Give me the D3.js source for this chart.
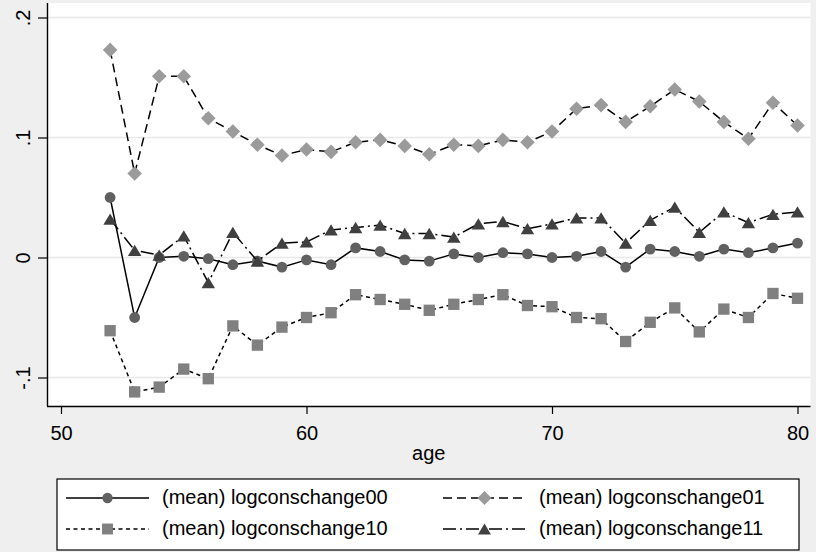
<!DOCTYPE html>
<html>
<head>
<meta charset="utf-8">
<script src="https://cdn.jsdelivr.net/npm/d3@7"></script>
<style>
  html, body { margin: 0; padding: 0; background: #efefef; }
  svg { display: block; font-family: "Liberation Sans", Arial, sans-serif; }
</style>
</head>
<body>
<svg id="chart" width="816" height="552"></svg>
<script>
// Mean log consumption change by age, four groups
const ages = [52,53,54,55,56,57,58,59,60,61,62,63,64,65,66,67,68,69,70,71,72,73,74,75,76,77,78,79,80];

const logconschange00 = [0.050,-0.050,0.000,0.001,-0.001,-0.006,-0.003,-0.008,-0.002,-0.006,0.008,0.005,-0.002,-0.003,0.003,0.000,0.004,0.003,0.000,0.001,0.005,-0.008,0.007,0.005,0.001,0.007,0.004,0.008,0.012];
const logconschange01 = [0.173,0.070,0.151,0.151,0.116,0.105,0.094,0.085,0.090,0.088,0.096,0.098,0.093,0.086,0.094,0.093,0.098,0.096,0.105,0.124,0.127,0.113,0.126,0.140,0.130,0.113,0.099,0.129,0.110];
const logconschange10 = [-0.061,-0.112,-0.108,-0.093,-0.101,-0.057,-0.073,-0.058,-0.050,-0.046,-0.031,-0.035,-0.039,-0.044,-0.039,-0.035,-0.031,-0.040,-0.041,-0.050,-0.051,-0.070,-0.054,-0.042,-0.062,-0.043,-0.050,-0.030,-0.034];
const logconschange11 = [0.032,0.006,0.002,0.018,-0.021,0.021,-0.003,0.012,0.013,0.023,0.025,0.027,0.020,0.020,0.017,0.028,0.030,0.024,0.028,0.033,0.033,0.012,0.031,0.042,0.021,0.038,0.029,0.036,0.038];

const xTicks = [50, 60, 70, 80];
const yTicks = [-0.1, 0, 0.1, 0.2];
const yTickLabels = ["-.1", "0", ".1", ".2"];

const seriesNames = ["(mean) logconschange00", "(mean) logconschange01", "(mean) logconschange10", "(mean) logconschange11"];

// marker shapes, drawn around the origin
const shapes = {
  circle: s => { const r = s; return `M${r},0A${r},${r} 0 1,1 ${-r},0A${r},${r} 0 1,1 ${r},0Z`; },
  diamond: s => { const r = s * 1.35; return `M0,${-r}L${r},0L0,${r}L${-r},0Z`; },
  square: s => { const h = s * 1.05; return `M${-h},${-h}H${h}V${h}H${-h}Z`; },
  triangle: s => { const w = s * 1.25, h = s * 1.05; return `M0,${-h}L${w},${h}L${-w},${h}Z`; }
};

const series = [
  { name: seriesNames[0], values: logconschange00, shape: "circle",   fill: "#616161", dash: null },
  { name: seriesNames[1], values: logconschange01, shape: "diamond",  fill: "#9b9b9b", dash: "9,5" },
  { name: seriesNames[2], values: logconschange10, shape: "square",   fill: "#808080", dash: "4,3.5" },
  { name: seriesNames[3], values: logconschange11, shape: "triangle", fill: "#404040", dash: "13,4,2,4" }
];

const svg = d3.select("#chart");
const plot = { left: 47, right: 810.5, top: 3, bottom: 406 };

const x = d3.scaleLinear().domain([50, 80]).range([61, 797.5]);
const y = d3.scaleLinear().domain([-0.1, 0.2]).range([377.5, 17.5]);

// plot region
svg.append("rect")
  .attr("x", plot.left).attr("y", plot.top)
  .attr("width", plot.right - plot.left).attr("height", plot.bottom - plot.top)
  .attr("fill", "#ffffff");

// horizontal grid
svg.append("g").selectAll("line").data(yTicks).join("line")
  .attr("x1", plot.left).attr("x2", plot.right)
  .attr("y1", d => y(d)).attr("y2", d => y(d))
  .attr("stroke", "#e8e8e8").attr("stroke-width", 1.6);

// y axis
const yAxis = d3.axisLeft(y).tickValues(yTicks).tickSize(9).tickPadding(0)
  .tickFormat((d, i) => yTickLabels[i]);
const gy = svg.append("g").attr("transform", `translate(${plot.left},0)`).call(yAxis);
gy.select(".domain").attr("d", `M0.5,${plot.top}V${plot.bottom}`).attr("stroke", "#000").attr("stroke-width", 1.4);
gy.selectAll(".tick line").attr("stroke", "#000").attr("stroke-width", 1.2);
gy.selectAll(".tick text")
  .attr("font-size", 20).attr("fill", "#000")
  .attr("text-anchor", "middle")
  .attr("x", null).attr("dy", null)
  .attr("transform", "translate(-17,0) rotate(-90)");

// x axis
const xAxis = d3.axisBottom(x).tickValues(xTicks).tickSize(8).tickPadding(0);
const gx = svg.append("g").attr("transform", `translate(0,${plot.bottom})`).call(xAxis);
gx.select(".domain").attr("d", `M${plot.left},0.5H${plot.right}`).attr("stroke", "#000").attr("stroke-width", 1.4);
gx.selectAll(".tick line").attr("stroke", "#000").attr("stroke-width", 1.2);
gx.selectAll(".tick text")
  .attr("font-size", 20).attr("fill", "#000")
  .attr("y", 34).attr("dy", null);

svg.append("text")
  .attr("x", (plot.left + plot.right) / 2).attr("y", 460)
  .attr("text-anchor", "middle").attr("font-size", 20).attr("fill", "#000")
  .text("age");

// lines and markers
const line = d3.line().x((d, i) => x(ages[i])).y(d => y(d));
series.forEach(s => {
  svg.append("path")
    .attr("d", line(s.values))
    .attr("fill", "none").attr("stroke", "#000").attr("stroke-width", 1.5)
    .attr("stroke-dasharray", s.dash);
  svg.append("g").selectAll("path").data(s.values).join("path")
    .attr("transform", (d, i) => `translate(${x(ages[i])},${y(d)})`)
    .attr("d", shapes[s.shape](5.4))
    .attr("fill", s.fill);
});

// legend
const legend = svg.append("g");
legend.append("rect")
  .attr("x", 57).attr("y", 479).attr("width", 742).attr("height", 71)
  .attr("fill", "#ffffff").attr("stroke", "#000").attr("stroke-width", 1.2);

const cols = [{ x1: 66, x2: 149, text: 162 }, { x1: 443, x2: 526, text: 539 }];
const rows = [498, 529];
series.forEach((s, i) => {
  const c = cols[i % 2], r = rows[Math.floor(i / 2)];
  const item = legend.append("g");
  item.append("line")
    .attr("x1", c.x1).attr("x2", c.x2).attr("y1", r).attr("y2", r)
    .attr("stroke", "#000").attr("stroke-width", 1.5)
    .attr("stroke-dasharray", s.dash);
  item.append("path")
    .attr("transform", `translate(${(c.x1 + c.x2) / 2},${r})`)
    .attr("d", shapes[s.shape](5.2))
    .attr("fill", s.fill);
  item.append("text")
    .attr("x", c.text).attr("y", r + 6)
    .attr("font-size", 20).attr("fill", "#000")
    .text(s.name);
});
</script>
</body>
</html>
